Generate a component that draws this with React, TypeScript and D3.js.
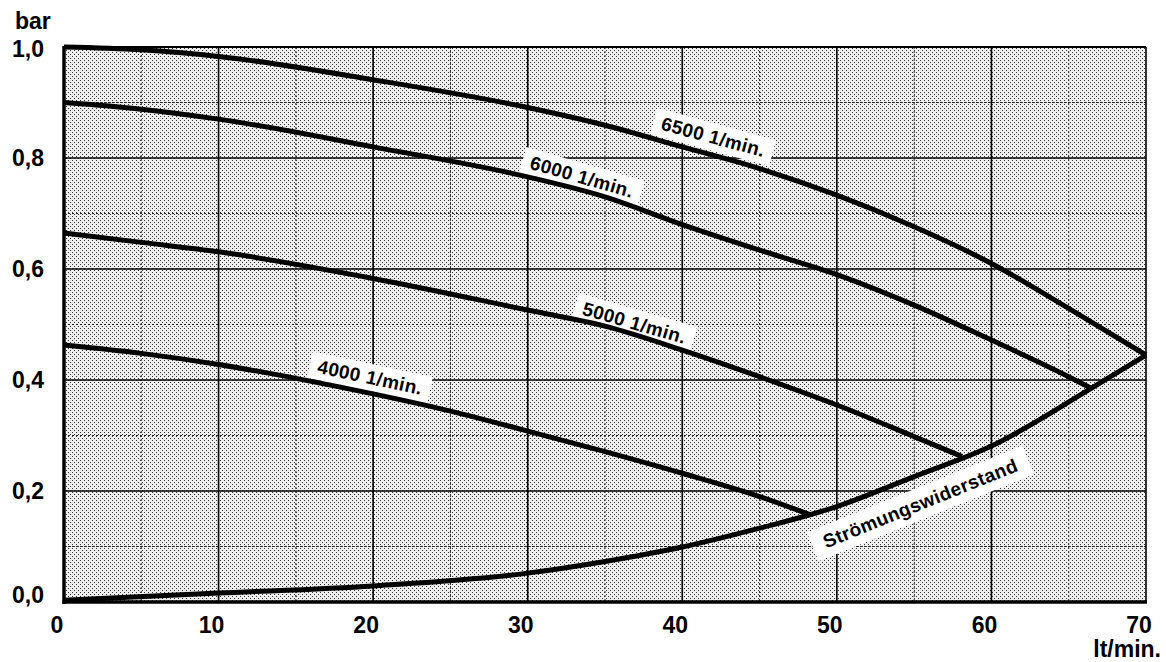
import { useEffect, useRef } from "react";
import * as d3 from "d3";

// pump curves: flow (lt/min.) -> pressure (bar)
const rpm6500 = [[0, 1.0], [5, 0.995], [10, 0.983], [20, 0.941], [30, 0.891], [35, 0.859], [40, 0.82], [45, 0.781], [50, 0.733], [55, 0.676], [60, 0.61], [65, 0.529], [70, 0.445]];
const rpm6000 = [[0, 0.9], [5, 0.888], [10, 0.87], [20, 0.82], [30, 0.766], [35, 0.73], [40, 0.68], [45, 0.634], [50, 0.59], [55, 0.535], [60, 0.472], [65, 0.406], [66.45, 0.385]];
const rpm5000 = [[0, 0.665], [5, 0.648], [10, 0.631], [20, 0.583], [30, 0.526], [35, 0.497], [40, 0.454], [45, 0.406], [50, 0.355], [55, 0.298], [58.1, 0.262]];
const rpm4000 = [[0, 0.463], [5, 0.448], [10, 0.428], [15, 0.403], [20, 0.375], [25, 0.344], [30, 0.308], [35, 0.271], [40, 0.232], [45, 0.19], [48.3, 0.157]];
const resistance = [[0, 0.003], [10, 0.016], [20, 0.029], [30, 0.052], [35, 0.073], [40, 0.099], [45, 0.133], [50, 0.172], [55, 0.226], [60, 0.281], [66.45, 0.385], [70, 0.445]];

const curves = [rpm6500, rpm6000, rpm5000, rpm4000, resistance];

const xTicks = [0, 10, 20, 30, 40, 50, 60, 70];
const yTicks = [0, 0.2, 0.4, 0.6, 0.8, 1.0];
const xMinor = [5, 15, 25, 35, 45, 55, 65];
const yMinor = [0.1, 0.3, 0.5, 0.7, 0.9];

// curve labels (data position of text centre, angle in degrees)
const labelText = ["6500 1/min.", "6000 1/min.", "5000 1/min.", "4000 1/min.", "Strömungswiderstand"];
const labelX = [42.0, 33.5, 36.9, 19.8, 55.4];
const labelY = [0.838, 0.766, 0.503, 0.405, 0.178];
const labelAngle = [15, 16, 16, 12, -22];

const W = 1166;
const H = 662;
const FONT = "'Liberation Sans', Arial, Helvetica, sans-serif";

export default function App() {
  const svgRef = useRef<SVGSVGElement>(null);

  useEffect(() => {
    const svg = d3.select(svgRef.current);
    svg.selectAll("*").remove();

    const x = d3.scaleLinear().domain([0, 70]).range([64, 1146]);
    const y = d3.scaleLinear().domain([0, 1]).range([602, 47]);

    // stippled background
    const pat = svg
      .append("defs")
      .append("pattern")
      .attr("id", "stipple")
      .attr("patternUnits", "userSpaceOnUse")
      .attr("width", 4)
      .attr("height", 4);
    pat.append("rect").attr("width", 4).attr("height", 4).attr("fill", "#efefef");
    pat.append("rect").attr("x", 0).attr("y", 0).attr("width", 1).attr("height", 1).attr("fill", "#333");
    pat.append("rect").attr("x", 2).attr("y", 2).attr("width", 1).attr("height", 1).attr("fill", "#333");

    svg
      .append("rect")
      .attr("x", x(0))
      .attr("y", y(1))
      .attr("width", x(70) - x(0))
      .attr("height", y(0) - y(1))
      .attr("fill", "url(#stipple)");

    // minor grid (dotted)
    const grid = svg.append("g");
    grid
      .selectAll(".vminor")
      .data(xMinor)
      .enter()
      .append("line")
      .attr("x1", (d) => x(d))
      .attr("x2", (d) => x(d))
      .attr("y1", y(1))
      .attr("y2", y(0))
      .attr("stroke", "#222")
      .attr("stroke-width", 1)
      .attr("stroke-dasharray", "2,2");
    grid
      .selectAll(".hminor")
      .data(yMinor)
      .enter()
      .append("line")
      .attr("x1", x(0))
      .attr("x2", x(70))
      .attr("y1", (d) => y(d))
      .attr("y2", (d) => y(d))
      .attr("stroke", "#222")
      .attr("stroke-width", 1)
      .attr("stroke-dasharray", "2,2");

    // major grid
    grid
      .selectAll(".vmajor")
      .data(xTicks.slice(1))
      .enter()
      .append("line")
      .attr("x1", (d) => x(d))
      .attr("x2", (d) => x(d))
      .attr("y1", y(1))
      .attr("y2", y(0))
      .attr("stroke", "#000")
      .attr("stroke-width", 1.6);
    grid
      .selectAll(".hmajor")
      .data(yTicks.slice(1))
      .enter()
      .append("line")
      .attr("x1", x(0))
      .attr("x2", x(70))
      .attr("y1", (d) => y(d))
      .attr("y2", (d) => y(d))
      .attr("stroke", "#000")
      .attr("stroke-width", (d) => (d === 1 ? 2.2 : 1.6));

    // label boxes first, so curves draw over them
    const labels = svg
      .append("g")
      .selectAll(".label")
      .data(labelText)
      .enter()
      .append("g")
      .attr("transform", (d, i) => `translate(${x(labelX[i])},${y(labelY[i])}) rotate(${labelAngle[i]})`);

    const boxes = labels.append("rect").attr("fill", "#fff");

    const line = d3
      .line()
      .x((d) => x(d[0]))
      .y((d) => y(d[1]))
      .curve(d3.curveMonotoneX);

    svg
      .append("g")
      .selectAll("path")
      .data(curves)
      .enter()
      .append("path")
      .attr("d", (d) => line(d))
      .attr("fill", "none")
      .attr("stroke", "#000")
      .attr("stroke-width", 5)
      .attr("stroke-linejoin", "round");

    const texts = labels
      .append("text")
      .attr("text-anchor", "middle")
      .attr("dy", "0.35em")
      .style("font-family", FONT)
      .style("font-weight", "bold")
      .style("font-size", "19px")
      .style("letter-spacing", "0.4px")
      .text((d) => d);

    texts.each(function (d, i) {
      const bb = this.getBBox();
      const padX = i === 4 ? 12 : 8;
      const padY = i === 4 ? 5 : 3;
      d3.select(boxes.nodes()[i])
        .attr("x", bb.x - padX)
        .attr("y", bb.y - padY)
        .attr("width", bb.width + padX * 2)
        .attr("height", bb.height + padY * 2);
    });

    // axes
    svg
      .append("line")
      .attr("x1", x(0))
      .attr("x2", x(0))
      .attr("y1", y(1) - 1)
      .attr("y2", y(0) + 2)
      .attr("stroke", "#000")
      .attr("stroke-width", 3.5);
    svg
      .append("line")
      .attr("x1", x(0) - 1.5)
      .attr("x2", x(70) + 1)
      .attr("y1", y(0))
      .attr("y2", y(0))
      .attr("stroke", "#000")
      .attr("stroke-width", 3.5);

    const fmt = d3.format(".1f");
    const axisText = svg
      .append("g")
      .style("font-family", FONT)
      .style("font-weight", "bold")
      .style("font-size", "23px")
      .attr("fill", "#000");

    axisText
      .selectAll(".ylab")
      .data(yTicks)
      .enter()
      .append("text")
      .attr("x", 44)
      .attr("y", (d) => y(d) + (d === 0 ? 1 : d === 1 ? 10 : 8))
      .attr("text-anchor", "end")
      .text((d) => fmt(d).replace(".", ","));

    axisText
      .selectAll(".xlab")
      .data(xTicks)
      .enter()
      .append("text")
      .attr("x", (d) => x(d) - 7)
      .attr("y", 633)
      .attr("text-anchor", "middle")
      .text((d) => d);

    axisText.append("text").attr("x", 15).attr("y", 29).text("bar");
    axisText.append("text").attr("x", 1161).attr("y", 657).attr("text-anchor", "end").text("lt/min.");
  }, []);

  return (
    <svg
      ref={svgRef}
      width={W}
      height={H}
      style={{ position: "absolute", left: 0, top: 0, background: "#fff" }}
    />
  );
}
